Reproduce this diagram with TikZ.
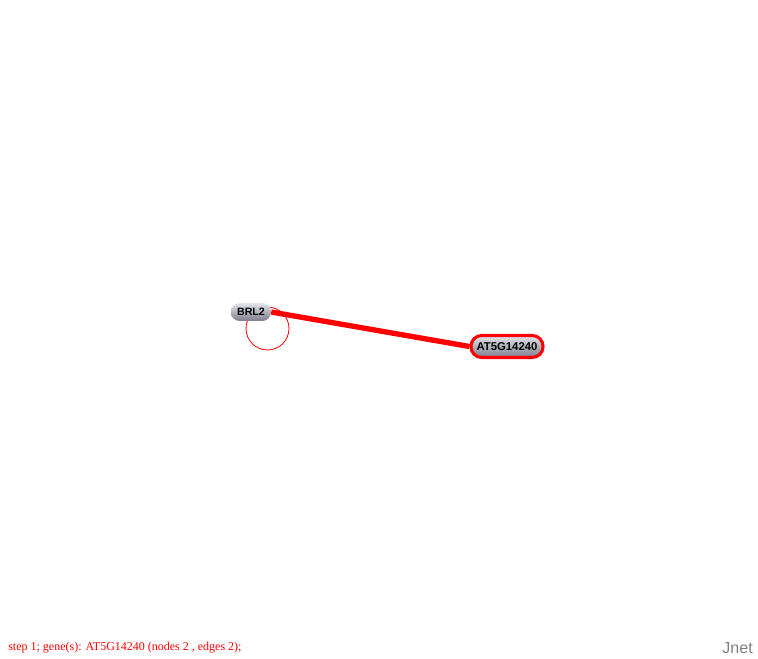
\documentclass[tikz,border=0pt]{standalone}
\usepackage{fontspec}
\setmainfont{Liberation Serif}
\setsansfont{Liberation Sans}
\usepackage{xcolor}
\usepackage{tikz}

\pgfdeclarelayer{background}
\pgfsetlayers{background,main}

\definecolor{nodetop}{RGB}{228,228,236}
\definecolor{nodebottom}{RGB}{125,125,140}

\tikzset{
  gene/.style={rounded corners=6.5pt, top color=nodetop, bottom color=nodebottom,
    minimum height=13.5pt, inner sep=1pt, font=\sffamily\bfseries\fontsize{8}{9}\selectfont},
  query/.style={gene, draw=red, line width=2.3pt, minimum width=54pt, minimum height=16.5pt, rounded corners=8pt,
    font=\sffamily\bfseries\fontsize{8.5}{9}\selectfont},
  interaction/.style={red, line width=4pt},
  selfloop/.style={red, line width=0.6pt}
}

\begin{document}
\begin{tikzpicture}[x=0.75pt,y=-0.75pt]

% Area
\useasboundingbox (0,0) rectangle (758,659);

% Geni
\node[gene, minimum width=30pt] (brl) at (251,312) {BRL2};
\node[query] (at5) at (507,346.5) {AT5G14240};

% Interazioni
\begin{pgfonlayer}{background}
\draw[selfloop] ([shift={(16.5,16.5)}]brl.center) circle (21.5);
\draw[interaction] (brl.east) -- (at5.west);
\end{pgfonlayer}

% Didascalie
\node[anchor=west, text=red, inner sep=0pt, font=\fontsize{9}{10}\selectfont] (info) at (8,648)
  {step 1; gene(s): AT5G14240 (nodes 2 , edges 2);};
\node[anchor=east, text=gray, inner sep=0pt, font=\sffamily\fontsize{12}{13}\selectfont] (jnet) at (753,648) {Jnet};
\end{tikzpicture}
\end{document}
